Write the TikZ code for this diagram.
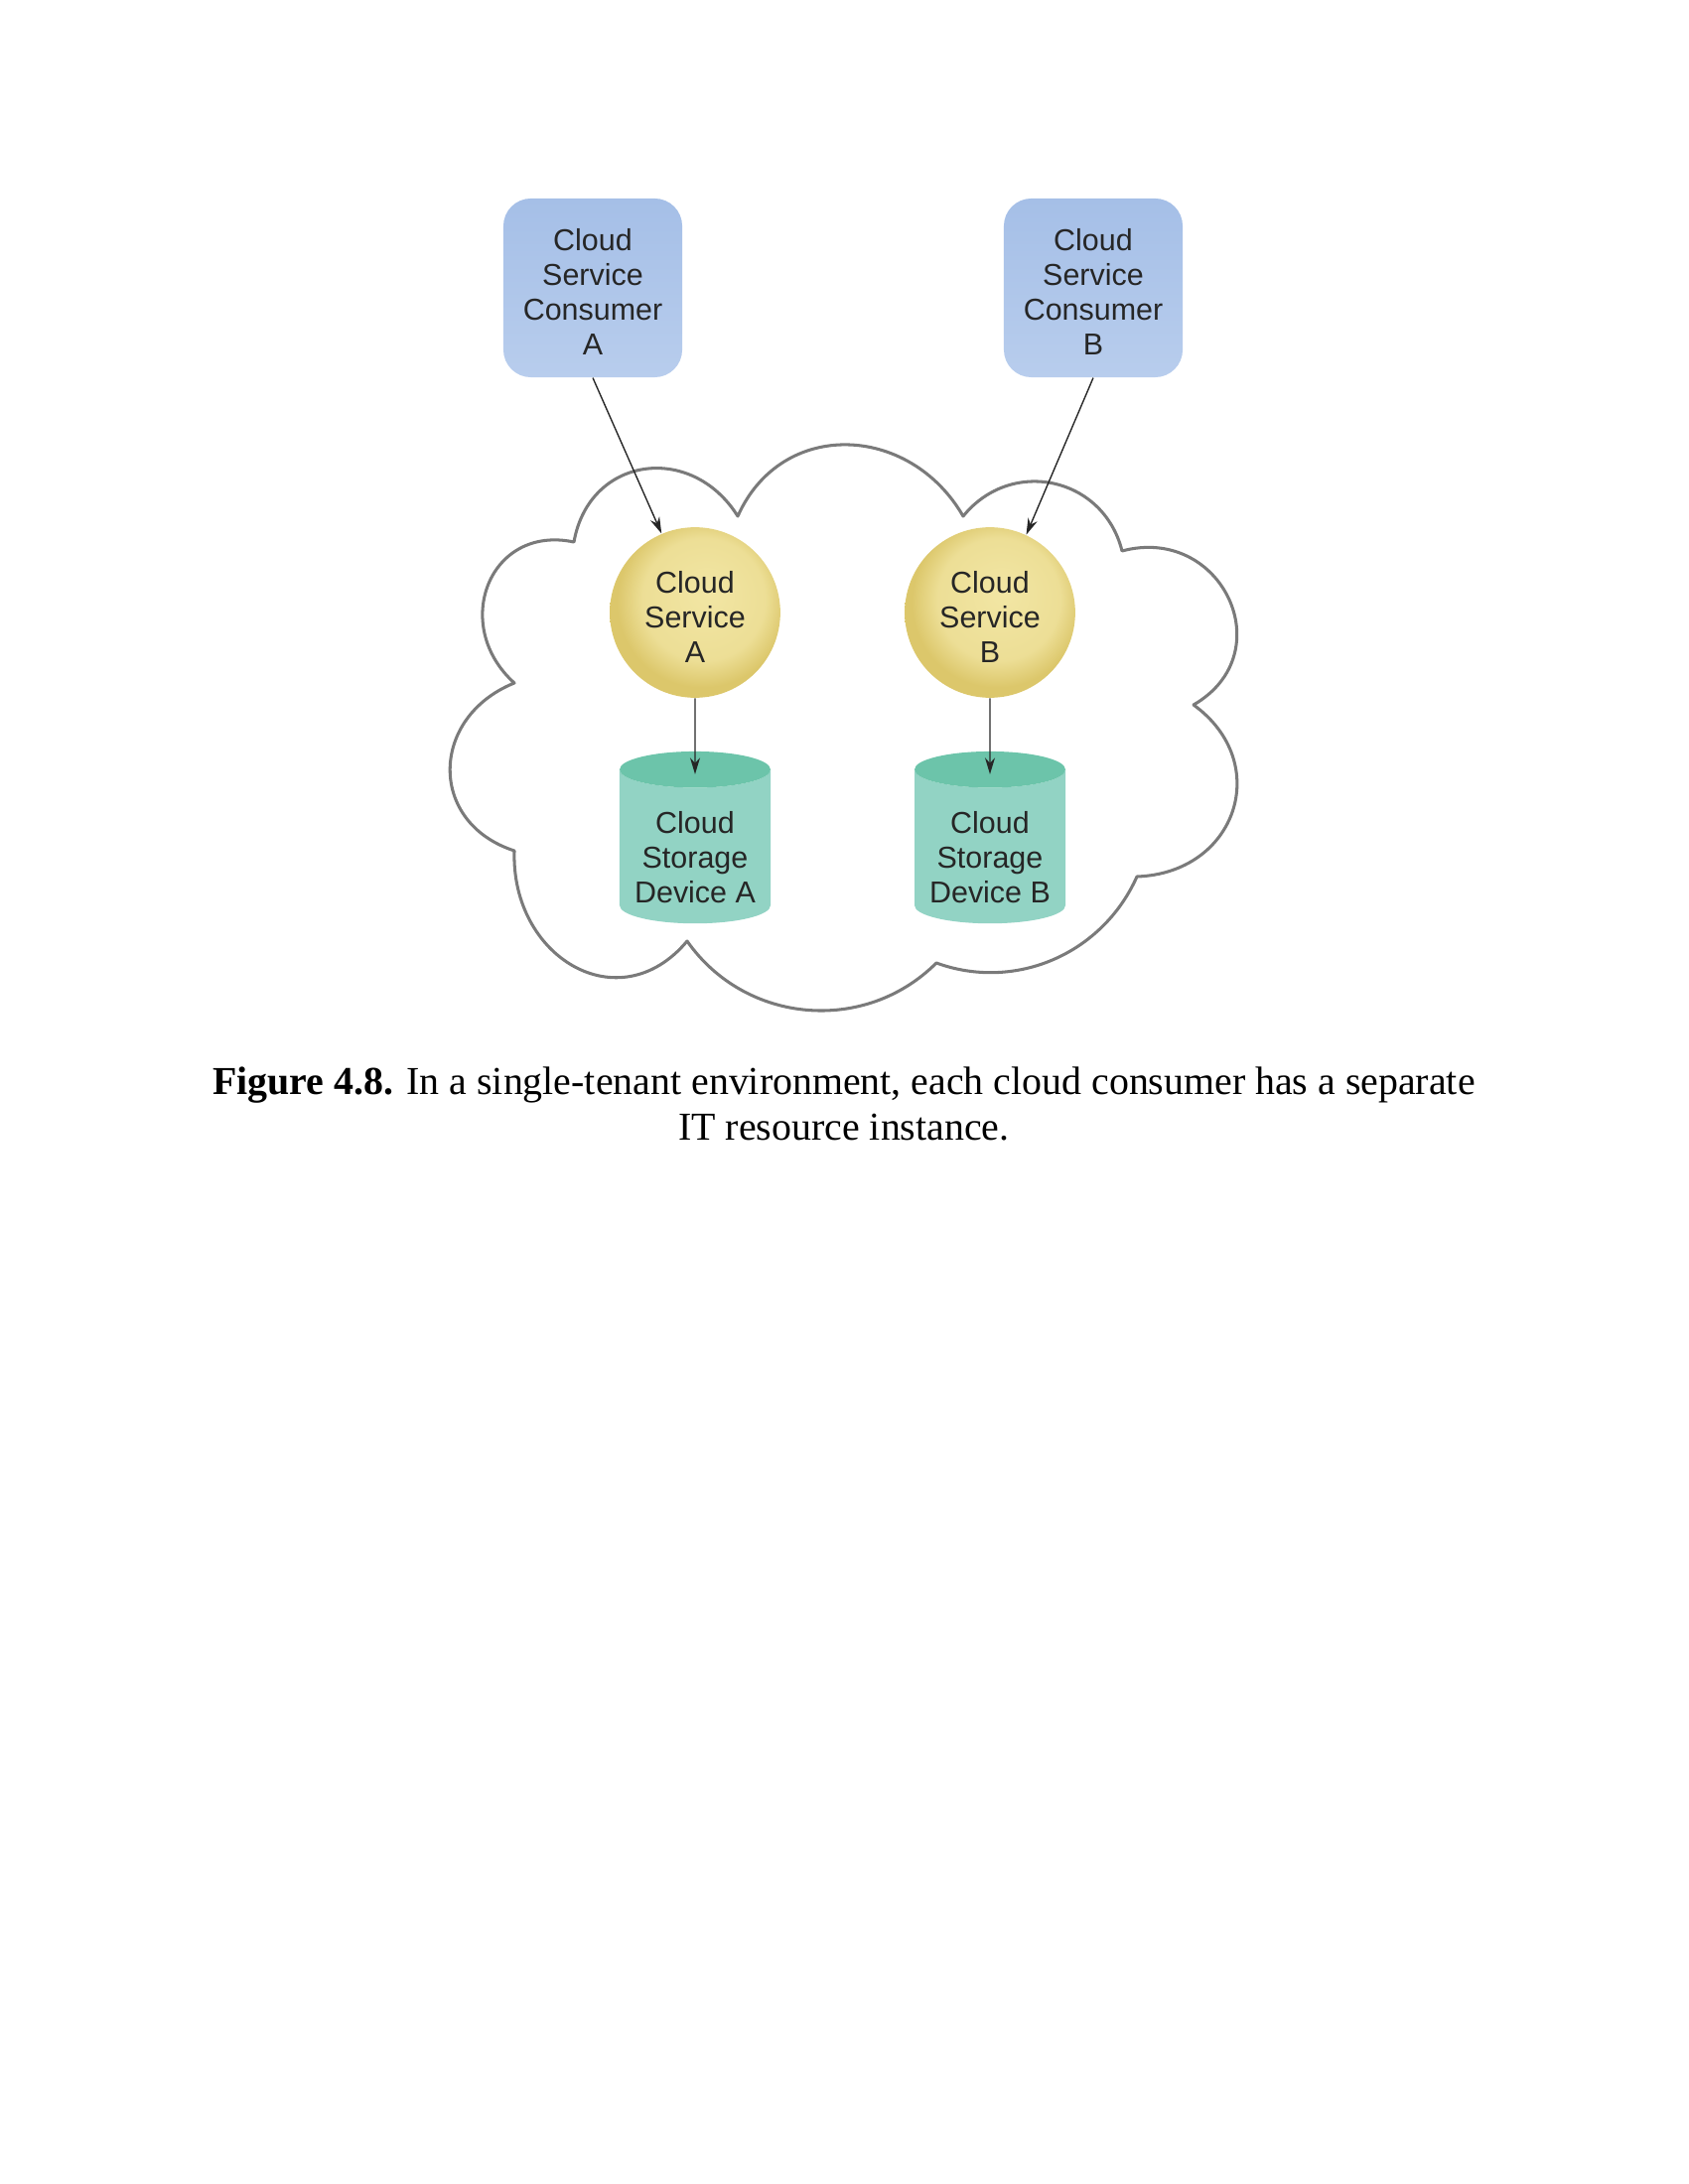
\documentclass[tikz,border=0pt]{standalone}
\usepackage{fontspec}
\setmainfont{Liberation Serif}
\setsansfont{Liberation Sans}
\usetikzlibrary{shapes.geometric, arrows.meta}
\tikzset{>={Stealth[length=6pt, width=3.6pt]}}

\definecolor{consumerTop}{HTML}{A5BFE7}
\definecolor{consumerMid}{HTML}{B3C9EC}
\definecolor{consumerBot}{HTML}{B8CDED}
\definecolor{svcLight}{HTML}{F2E6A4}
\definecolor{svcDark}{HTML}{DCC76B}
\definecolor{storeBody}{HTML}{92D3C4}
\definecolor{storeTop}{HTML}{6CC4AA}
\definecolor{cloudGray}{HTML}{7A7A7A}
\pgfdeclareradialshading{svcball}{\pgfpoint{4bp}{6bp}}{color(0bp)=(svcLight); color(18bp)=(svcLight!75!svcDark); color(25bp)=(svcDark); color(50bp)=(svcDark)}

\begin{document}
\begin{tikzpicture}[
  x=0.0127cm, y=-0.0127cm,
  consumer/.style={rectangle, rounded corners=10pt, minimum size=2.286cm, inner sep=0pt, text height=48.8pt, top color=consumerTop, middle color=consumerMid, bottom color=consumerBot, font=\sffamily\fontsize{11}{12.6}\selectfont, text=black!85, align=center},
  service/.style={circle, minimum size=2.18cm, inner sep=0pt, text height=36.2pt, shading=svcball, font=\sffamily\fontsize{11}{12.6}\selectfont, text=black!85, align=center},
  storage/.style={cylinder, shape border rotate=90, aspect=0.3, minimum width=1.93cm, minimum height=2.2cm, inner sep=0pt, text height=40.8pt, cylinder uses custom fill, cylinder body fill=storeBody, cylinder end fill=storeTop, font=\sffamily\fontsize{11}{12.6}\selectfont, text=black!85, align=center},
  link/.style={->, line width=0.5pt, black!85},
  cloudline/.style={line width=1.1pt, cloudGray, line join=round}
]
\useasboundingbox (0,0) rectangle (1700,2200);

% The cloud
\draw[cloudline] (518,857)
  .. controls +(198:92) and +(158:92) .. (518,688)
  .. controls +(222:87) and +(192:87) .. (578,546)
  .. controls +(-80:88) and +(238:88) .. (743,520)
  .. controls +(-66:108) and +(240:108) .. (970,520)
  .. controls +(-51:77) and +(256:77) .. (1130,555)
  .. controls +(-15:104) and +(330:104) .. (1202,710)
  .. controls +(36:100) and +(358:100) .. (1145,883)
  .. controls +(114:85) and +(20:85) .. (943,970)
  .. controls +(135:102) and +(55:102) .. (692,948)
  .. controls +(130:107) and +(92:107) .. (518,857) -- cycle;

% Cloud service consumers
\node[consumer] (CA) at (597,290) {Cloud\\Service\\Consumer\\A};
\node[consumer] (CB) at (1101,290) {Cloud\\Service\\Consumer\\B};

% Cloud services
\node[service] (SA) at (700,617) {Cloud\\Service\\A};
\node[service] (SB) at (997,617) {Cloud\\Service\\B};

% Cloud storage devices
\node[storage] (DA) at (700,853) {Cloud\\Storage\\Device A};
\node[storage] (DB) at (997,853) {Cloud\\Storage\\Device B};

% Arrows
\draw[link] (CA.south) -- (SA.113);
\draw[link] (CB.south) -- (SB.65);
\draw[link] (SA.south) -- ([yshift=-8.5pt]DA.north);
\draw[link] (SB.south) -- ([yshift=-8.5pt]DB.north);

% Caption
\node[font=\fontsize{14.4}{16.3}\selectfont, align=center] (caption) at (850,1112) {\textbf{Figure 4.8.} In a single-tenant environment, each cloud consumer has a separate\\IT resource instance.};

\end{tikzpicture}
\end{document}
